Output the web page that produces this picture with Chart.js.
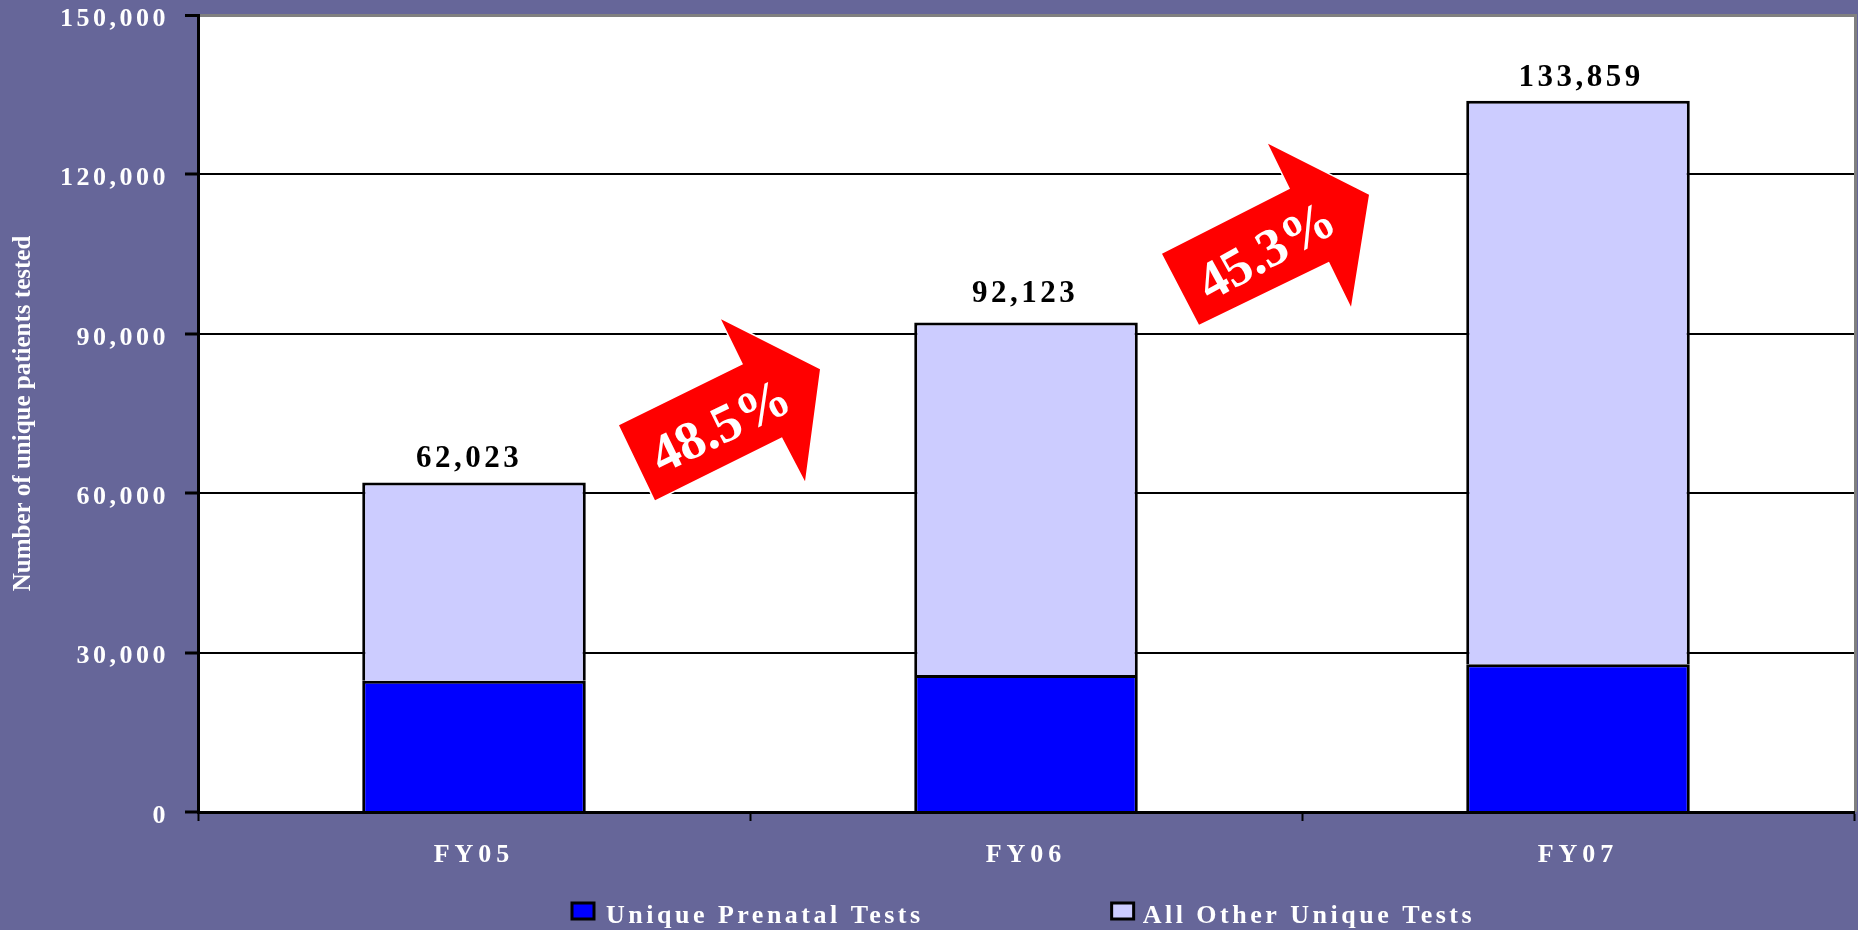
<!DOCTYPE html>
<html><head><meta charset="utf-8">
<style>html,body{margin:0;padding:0;background:#666699}canvas{display:block}</style>
<script src="https://cdn.jsdelivr.net/npm/chart.js@4"></script>
</head><body><canvas id="c" width="1858" height="930"></canvas>
<script>
const categories = ['FY05','FY06','FY07'];
const prenatalTests = [24700,25800,27800];
const otherTests = [37323,66323,106059];
const totals = [62023,92123,133859];
const yTickValues = [0,30000,60000,90000,120000,150000];
const growthLabels = ['48.5%','45.3%'];
const growthAnchors = [[0.5,60000],[1.5,90000]];

const SERIF = '"Liberation Serif","Times New Roman",serif';
const arrowShapes = [
  {pts:[[-131,-68],[-7,-129],[-29,-174],[70,-124],[55,-12],[32,-56],[-95,7]],text:[-28,-64],angle:-26},
  {pts:[[-140,-80],[-12,-145],[-34,-190],[67,-139],[49,-27],[27,-72],[-103,-9]],text:[-34,-80],angle:-29}
];
const totalNudges = [[-5,0],[-1,-6],[3,0]];
const legendTextNudges = [[-1,5],[-4,5]];
const spacing = {x:'5px',y:'3.5px',legend:'3.5px',data:'3.5px'};

const origDrawLabels = Chart.Scale.prototype.drawLabels;
Chart.Scale.prototype.drawLabels = function(area){
  const ctx = this.ctx; ctx.save();
  ctx.letterSpacing = spacing[this.axis];
  if(this.axis==='y') ctx.translate(0,4);
  origDrawLabels.call(this,area);
  ctx.restore();
};
const origDrawTitle = Chart.Scale.prototype.drawTitle;
Chart.Scale.prototype.drawTitle = function(area){
  const ctx = this.ctx; ctx.save();
  ctx.letterSpacing = '0px';
  origDrawTitle.call(this,area);
  ctx.restore();
};

const decor = {
  id:'decor',
  beforeLayout(chart){ chart.ctx.letterSpacing = spacing.legend; },
  afterLayout(chart){
    const l = chart.legend, a = chart.chartArea, pad = l.options.labels.padding, ctx = chart.ctx;
    l.left = 572 - pad; l.right = a.right; l.top = 898 - pad;
    if(!l._patched){
      l._patched = true;
      const d = l.draw;
      l.draw = function(){
        let n = 0;
        const f = ctx.fillText;
        ctx.fillText = (t,x,y)=>{ const o = legendTextNudges[n++]||[0,0]; f.call(ctx,t,x+o[0],y+o[1]); };
        d.call(l);
        delete ctx.fillText;
      };
    }
  },
  beforeDraw(chart){
    const {ctx, chartArea:a} = chart;
    ctx.letterSpacing = spacing.legend;
    ctx.save();
    ctx.fillStyle='#fff'; ctx.fillRect(a.left,a.top,a.right-a.left,a.bottom-a.top);
    ctx.fillStyle='#808080'; ctx.fillRect(a.right,a.top-1,3,a.bottom-a.top+1);
    ctx.restore();
  },
  afterDatasetsDraw(chart){
    const {ctx, scales:{x,y}} = chart;
    ctx.save();
    ctx.font = 'bold 31px '+SERIF; ctx.fillStyle='#000'; ctx.textAlign='center'; ctx.textBaseline='alphabetic';
    ctx.letterSpacing = spacing.data;
    totals.forEach((t,i)=>{
      ctx.fillText(t.toLocaleString('en-US'), x.getPixelForValue(i)+totalNudges[i][0], y.getPixelForValue(t)-15+totalNudges[i][1]);
    });
    ctx.letterSpacing='0px';
    growthLabels.forEach((label,i)=>{
      const ax = x.getPixelForValue(growthAnchors[i][0]), ay = y.getPixelForValue(growthAnchors[i][1]);
      const s = arrowShapes[i];
      ctx.beginPath();
      s.pts.forEach((p,k)=> k? ctx.lineTo(ax+p[0],ay+p[1]) : ctx.moveTo(ax+p[0],ay+p[1]));
      ctx.closePath();
      ctx.strokeStyle='#fff'; ctx.lineWidth=3; ctx.stroke();
      ctx.fillStyle='#ff0000'; ctx.fill();
      ctx.save();
      ctx.translate(ax+s.text[0],ay+s.text[1]);
      ctx.rotate(s.angle*Math.PI/180);
      ctx.font='bold 54px '+SERIF; ctx.fillStyle='#fff'; ctx.textAlign='center'; ctx.textBaseline='middle';
      ctx.fillText(label,0,0);
      ctx.restore();
    });
    ctx.restore();
  }
};

Chart.defaults.font.family = SERIF;
new Chart(document.getElementById('c'),{
  type:'bar',
  data:{labels:categories,datasets:[
    {label:'Unique Prenatal Tests',data:prenatalTests,backgroundColor:'#0000ff',borderColor:'#000',borderWidth:3,borderSkipped:'bottom'},
    {label:'All Other Unique Tests',data:otherTests,backgroundColor:'#ccccff',borderColor:'#000',borderWidth:3,borderSkipped:'bottom'}
  ]},
  options:{
    responsive:false,animation:false,
    layout:{padding:{top:15,right:4,left:0,bottom:0}},
    datasets:{bar:{categoryPercentage:1,barPercentage:0.405}},
    plugins:{
      tooltip:{enabled:false},
      legend:{display:true,position:'bottom',align:'start',maxHeight:60,
        labels:{color:'#fff',boxWidth:22,boxHeight:16,padding:187,font:{size:26,weight:'bold',family:SERIF},
          generateLabels(chart){
            return Chart.defaults.plugins.legend.labels.generateLabels(chart).map(i=>({...i,lineWidth:3}));
          }}}
    },
    scales:{
      x:{stacked:true,
        afterFit(s){s.height=58;},
        border:{color:'#000',width:3},
        grid:{drawOnChartArea:false,tickLength:9,tickColor:'#000',tickWidth:2},
        ticks:{color:'#fff',padding:19,maxRotation:0,font:{size:26,weight:'bold',family:SERIF}}
      },
      y:{stacked:true,min:0,max:150000,
        afterFit(s){s.width=198;s.paddingTop=0;s.paddingBottom=0;},
        afterBuildTicks(s){s.ticks=yTickValues.map(v=>({value:v}));},
        border:{color:'#000',width:3},
        grid:{color:c=>c.tick&&c.tick.value===150000?'#808080':'#000',lineWidth:c=>c.tick&&c.tick.value===150000?3:2,tickLength:13,tickColor:'#000',tickWidth:3},
        ticks:{color:'#fff',padding:16,font:{size:26,weight:'bold',family:SERIF},callback:v=>v.toLocaleString('en-US')},
        title:{display:true,text:'Number of unique patients tested',color:'#fff',padding:{top:9,bottom:0},font:{size:25,weight:'bold',family:SERIF}}
      }
    }
  },
  plugins:[decor]
});
</script></body></html>
